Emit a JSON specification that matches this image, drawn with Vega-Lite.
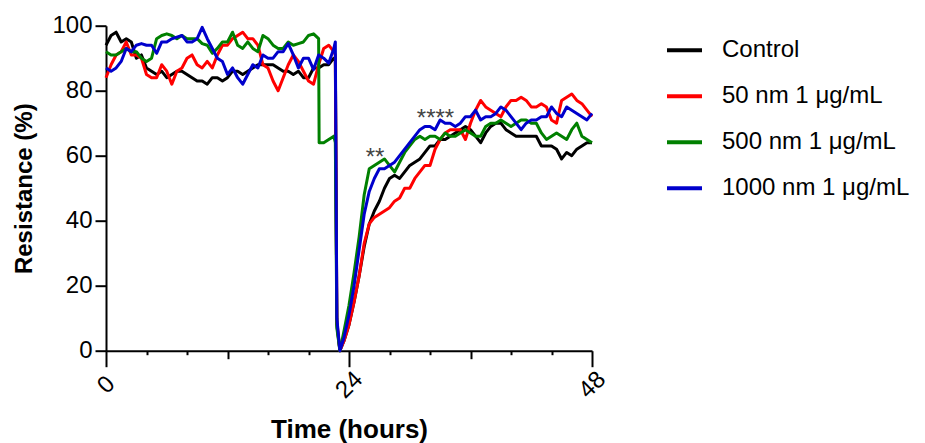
{
  "$schema": "https://vega.github.io/schema/vega-lite/v6.json",
  "width": 486,
  "height": 325,
  "autosize": {"type": "none"},
  "padding": {"left": 106, "top": 25.7, "right": 333, "bottom": 92.3},
  "background": "white",
  "config": {"view": {"stroke": null}, "font": "Liberation Sans"},
  "layer": [
    {
      "data": {"values": [
        {"t":0,"s":"Control","v":94},{"t":0.5,"s":"Control","v":97},{"t":1,"s":"Control","v":98},{"t":1.5,"s":"Control","v":95},{"t":2,"s":"Control","v":96},{"t":2.5,"s":"Control","v":95},{"t":3,"s":"Control","v":90},{"t":3.5,"s":"Control","v":91},{"t":4,"s":"Control","v":87},{"t":4.5,"s":"Control","v":86},{"t":5,"s":"Control","v":85},{"t":5.5,"s":"Control","v":86},{"t":6,"s":"Control","v":84},{"t":6.5,"s":"Control","v":85},{"t":7,"s":"Control","v":86},{"t":7.5,"s":"Control","v":86},{"t":8,"s":"Control","v":85},{"t":8.5,"s":"Control","v":84},{"t":9,"s":"Control","v":83},{"t":9.5,"s":"Control","v":83},{"t":10,"s":"Control","v":82},{"t":10.5,"s":"Control","v":84},{"t":11,"s":"Control","v":84},{"t":11.5,"s":"Control","v":83},{"t":12,"s":"Control","v":84},{"t":12.5,"s":"Control","v":86},{"t":13,"s":"Control","v":86},{"t":13.5,"s":"Control","v":85},{"t":14,"s":"Control","v":86},{"t":14.5,"s":"Control","v":87},{"t":15,"s":"Control","v":88},{"t":15.5,"s":"Control","v":88},{"t":16,"s":"Control","v":88},{"t":16.5,"s":"Control","v":88},{"t":17,"s":"Control","v":87},{"t":17.5,"s":"Control","v":86},{"t":18,"s":"Control","v":86},{"t":18.5,"s":"Control","v":85},{"t":19,"s":"Control","v":86},{"t":19.5,"s":"Control","v":84},{"t":20,"s":"Control","v":84},{"t":20.5,"s":"Control","v":87},{"t":21,"s":"Control","v":87},{"t":21.5,"s":"Control","v":88},{"t":22,"s":"Control","v":88},{"t":22.5,"s":"Control","v":90},{"t":22.65,"s":"Control","v":90},{"t":22.8,"s":"Control","v":8},{"t":23.1,"s":"Control","v":0},{"t":23.5,"s":"Control","v":3},{"t":24,"s":"Control","v":8},{"t":24.5,"s":"Control","v":15},{"t":25,"s":"Control","v":23},{"t":25.5,"s":"Control","v":32},{"t":26,"s":"Control","v":39},{"t":26.5,"s":"Control","v":43},{"t":27,"s":"Control","v":46},{"t":27.5,"s":"Control","v":50},{"t":28,"s":"Control","v":53},{"t":28.5,"s":"Control","v":54},{"t":29,"s":"Control","v":53},{"t":29.5,"s":"Control","v":55},{"t":30,"s":"Control","v":57},{"t":30.5,"s":"Control","v":58},{"t":31,"s":"Control","v":59},{"t":31.5,"s":"Control","v":61},{"t":32,"s":"Control","v":63},{"t":32.5,"s":"Control","v":63},{"t":33,"s":"Control","v":65},{"t":33.5,"s":"Control","v":65},{"t":34,"s":"Control","v":66},{"t":34.5,"s":"Control","v":67},{"t":35,"s":"Control","v":68},{"t":35.5,"s":"Control","v":69},{"t":36,"s":"Control","v":68},{"t":36.5,"s":"Control","v":66},{"t":37,"s":"Control","v":64},{"t":37.5,"s":"Control","v":67},{"t":38,"s":"Control","v":69},{"t":38.5,"s":"Control","v":70},{"t":39,"s":"Control","v":70},{"t":39.5,"s":"Control","v":68},{"t":40,"s":"Control","v":67},{"t":40.5,"s":"Control","v":66},{"t":41,"s":"Control","v":66},{"t":41.5,"s":"Control","v":66},{"t":42,"s":"Control","v":66},{"t":42.5,"s":"Control","v":66},{"t":43,"s":"Control","v":63},{"t":43.5,"s":"Control","v":63},{"t":44,"s":"Control","v":63},{"t":44.5,"s":"Control","v":62},{"t":45,"s":"Control","v":59},{"t":45.5,"s":"Control","v":61},{"t":46,"s":"Control","v":60},{"t":46.5,"s":"Control","v":62},{"t":47,"s":"Control","v":63},{"t":47.5,"s":"Control","v":64},{"t":48,"s":"Control","v":64},

        {"t":0,"s":"50 nm 1 μg/mL","v":84},{"t":0.5,"s":"50 nm 1 μg/mL","v":88},{"t":1,"s":"50 nm 1 μg/mL","v":91},{"t":1.5,"s":"50 nm 1 μg/mL","v":92},{"t":2,"s":"50 nm 1 μg/mL","v":95},{"t":2.5,"s":"50 nm 1 μg/mL","v":91},{"t":3,"s":"50 nm 1 μg/mL","v":91},{"t":3.5,"s":"50 nm 1 μg/mL","v":90},{"t":4,"s":"50 nm 1 μg/mL","v":85},{"t":4.5,"s":"50 nm 1 μg/mL","v":84},{"t":5,"s":"50 nm 1 μg/mL","v":84},{"t":5.5,"s":"50 nm 1 μg/mL","v":88},{"t":6,"s":"50 nm 1 μg/mL","v":86},{"t":6.5,"s":"50 nm 1 μg/mL","v":82},{"t":7,"s":"50 nm 1 μg/mL","v":86},{"t":7.5,"s":"50 nm 1 μg/mL","v":87},{"t":8,"s":"50 nm 1 μg/mL","v":90},{"t":8.5,"s":"50 nm 1 μg/mL","v":91},{"t":9,"s":"50 nm 1 μg/mL","v":88},{"t":9.5,"s":"50 nm 1 μg/mL","v":87},{"t":10,"s":"50 nm 1 μg/mL","v":89},{"t":10.5,"s":"50 nm 1 μg/mL","v":87},{"t":11,"s":"50 nm 1 μg/mL","v":91},{"t":11.5,"s":"50 nm 1 μg/mL","v":94},{"t":12,"s":"50 nm 1 μg/mL","v":94},{"t":12.5,"s":"50 nm 1 μg/mL","v":96},{"t":13,"s":"50 nm 1 μg/mL","v":97},{"t":13.5,"s":"50 nm 1 μg/mL","v":98},{"t":14,"s":"50 nm 1 μg/mL","v":96},{"t":14.5,"s":"50 nm 1 μg/mL","v":96},{"t":15,"s":"50 nm 1 μg/mL","v":94},{"t":15.5,"s":"50 nm 1 μg/mL","v":88},{"t":16,"s":"50 nm 1 μg/mL","v":87},{"t":16.5,"s":"50 nm 1 μg/mL","v":83},{"t":17,"s":"50 nm 1 μg/mL","v":80},{"t":17.5,"s":"50 nm 1 μg/mL","v":84},{"t":18,"s":"50 nm 1 μg/mL","v":88},{"t":18.5,"s":"50 nm 1 μg/mL","v":91},{"t":19,"s":"50 nm 1 μg/mL","v":89},{"t":19.5,"s":"50 nm 1 μg/mL","v":86},{"t":20,"s":"50 nm 1 μg/mL","v":83},{"t":20.5,"s":"50 nm 1 μg/mL","v":82},{"t":21,"s":"50 nm 1 μg/mL","v":88},{"t":21.5,"s":"50 nm 1 μg/mL","v":93},{"t":22,"s":"50 nm 1 μg/mL","v":94},{"t":22.5,"s":"50 nm 1 μg/mL","v":92},{"t":22.65,"s":"50 nm 1 μg/mL","v":91},{"t":22.8,"s":"50 nm 1 μg/mL","v":9},{"t":23.1,"s":"50 nm 1 μg/mL","v":0},{"t":23.5,"s":"50 nm 1 μg/mL","v":3},{"t":24,"s":"50 nm 1 μg/mL","v":8},{"t":24.5,"s":"50 nm 1 μg/mL","v":15},{"t":25,"s":"50 nm 1 μg/mL","v":23},{"t":25.5,"s":"50 nm 1 μg/mL","v":33},{"t":26,"s":"50 nm 1 μg/mL","v":39},{"t":26.5,"s":"50 nm 1 μg/mL","v":41},{"t":27,"s":"50 nm 1 μg/mL","v":42},{"t":27.5,"s":"50 nm 1 μg/mL","v":43},{"t":28,"s":"50 nm 1 μg/mL","v":44},{"t":28.5,"s":"50 nm 1 μg/mL","v":46},{"t":29,"s":"50 nm 1 μg/mL","v":47},{"t":29.5,"s":"50 nm 1 μg/mL","v":50},{"t":30,"s":"50 nm 1 μg/mL","v":50},{"t":30.5,"s":"50 nm 1 μg/mL","v":53},{"t":31,"s":"50 nm 1 μg/mL","v":55},{"t":31.5,"s":"50 nm 1 μg/mL","v":57},{"t":32,"s":"50 nm 1 μg/mL","v":57},{"t":32.5,"s":"50 nm 1 μg/mL","v":62},{"t":33,"s":"50 nm 1 μg/mL","v":65},{"t":33.5,"s":"50 nm 1 μg/mL","v":67},{"t":34,"s":"50 nm 1 μg/mL","v":68},{"t":34.5,"s":"50 nm 1 μg/mL","v":68},{"t":35,"s":"50 nm 1 μg/mL","v":68},{"t":35.5,"s":"50 nm 1 μg/mL","v":65},{"t":36,"s":"50 nm 1 μg/mL","v":70},{"t":36.5,"s":"50 nm 1 μg/mL","v":74},{"t":37,"s":"50 nm 1 μg/mL","v":77},{"t":37.5,"s":"50 nm 1 μg/mL","v":75},{"t":38,"s":"50 nm 1 μg/mL","v":74},{"t":38.5,"s":"50 nm 1 μg/mL","v":73},{"t":39,"s":"50 nm 1 μg/mL","v":72},{"t":39.5,"s":"50 nm 1 μg/mL","v":75},{"t":40,"s":"50 nm 1 μg/mL","v":77},{"t":40.5,"s":"50 nm 1 μg/mL","v":77},{"t":41,"s":"50 nm 1 μg/mL","v":78},{"t":41.5,"s":"50 nm 1 μg/mL","v":77},{"t":42,"s":"50 nm 1 μg/mL","v":75},{"t":42.5,"s":"50 nm 1 μg/mL","v":75},{"t":43,"s":"50 nm 1 μg/mL","v":76},{"t":43.5,"s":"50 nm 1 μg/mL","v":75},{"t":44,"s":"50 nm 1 μg/mL","v":71},{"t":44.5,"s":"50 nm 1 μg/mL","v":70},{"t":45,"s":"50 nm 1 μg/mL","v":77},{"t":45.5,"s":"50 nm 1 μg/mL","v":78},{"t":46,"s":"50 nm 1 μg/mL","v":79},{"t":46.5,"s":"50 nm 1 μg/mL","v":77},{"t":47,"s":"50 nm 1 μg/mL","v":76},{"t":47.5,"s":"50 nm 1 μg/mL","v":74},{"t":48,"s":"50 nm 1 μg/mL","v":72},

        {"t":0,"s":"500 nm 1 μg/mL","v":92},{"t":0.5,"s":"500 nm 1 μg/mL","v":91},{"t":1,"s":"500 nm 1 μg/mL","v":91},{"t":1.5,"s":"500 nm 1 μg/mL","v":92},{"t":2,"s":"500 nm 1 μg/mL","v":93},{"t":2.5,"s":"500 nm 1 μg/mL","v":92},{"t":3,"s":"500 nm 1 μg/mL","v":92},{"t":3.5,"s":"500 nm 1 μg/mL","v":90},{"t":4,"s":"500 nm 1 μg/mL","v":89},{"t":4.5,"s":"500 nm 1 μg/mL","v":90},{"t":5,"s":"500 nm 1 μg/mL","v":96},{"t":5.5,"s":"500 nm 1 μg/mL","v":97},{"t":6,"s":"500 nm 1 μg/mL","v":97.5},{"t":6.5,"s":"500 nm 1 μg/mL","v":97},{"t":7,"s":"500 nm 1 μg/mL","v":96},{"t":7.5,"s":"500 nm 1 μg/mL","v":97},{"t":8,"s":"500 nm 1 μg/mL","v":96},{"t":8.5,"s":"500 nm 1 μg/mL","v":96},{"t":9,"s":"500 nm 1 μg/mL","v":96},{"t":9.5,"s":"500 nm 1 μg/mL","v":94.5},{"t":10,"s":"500 nm 1 μg/mL","v":94},{"t":10.5,"s":"500 nm 1 μg/mL","v":91.5},{"t":11,"s":"500 nm 1 μg/mL","v":93},{"t":11.5,"s":"500 nm 1 μg/mL","v":95},{"t":12,"s":"500 nm 1 μg/mL","v":95},{"t":12.5,"s":"500 nm 1 μg/mL","v":98},{"t":13,"s":"500 nm 1 μg/mL","v":94},{"t":13.5,"s":"500 nm 1 μg/mL","v":93},{"t":14,"s":"500 nm 1 μg/mL","v":95},{"t":14.5,"s":"500 nm 1 μg/mL","v":93},{"t":15,"s":"500 nm 1 μg/mL","v":92},{"t":15.5,"s":"500 nm 1 μg/mL","v":97},{"t":16,"s":"500 nm 1 μg/mL","v":96},{"t":16.5,"s":"500 nm 1 μg/mL","v":94},{"t":17,"s":"500 nm 1 μg/mL","v":93},{"t":17.5,"s":"500 nm 1 μg/mL","v":93},{"t":18,"s":"500 nm 1 μg/mL","v":95},{"t":18.5,"s":"500 nm 1 μg/mL","v":94},{"t":19,"s":"500 nm 1 μg/mL","v":94.5},{"t":19.5,"s":"500 nm 1 μg/mL","v":95},{"t":20,"s":"500 nm 1 μg/mL","v":97},{"t":20.5,"s":"500 nm 1 μg/mL","v":97.5},{"t":21,"s":"500 nm 1 μg/mL","v":96},{"t":21.05,"s":"500 nm 1 μg/mL","v":64},{"t":21.5,"s":"500 nm 1 μg/mL","v":64},{"t":22,"s":"500 nm 1 μg/mL","v":65},{"t":22.5,"s":"500 nm 1 μg/mL","v":66},{"t":22.65,"s":"500 nm 1 μg/mL","v":64},{"t":22.8,"s":"500 nm 1 μg/mL","v":7},{"t":23.1,"s":"500 nm 1 μg/mL","v":0},{"t":23.5,"s":"500 nm 1 μg/mL","v":6},{"t":24,"s":"500 nm 1 μg/mL","v":14},{"t":24.5,"s":"500 nm 1 μg/mL","v":24},{"t":25,"s":"500 nm 1 μg/mL","v":35},{"t":25.5,"s":"500 nm 1 μg/mL","v":48},{"t":26,"s":"500 nm 1 μg/mL","v":56},{"t":26.5,"s":"500 nm 1 μg/mL","v":57},{"t":27,"s":"500 nm 1 μg/mL","v":58},{"t":27.5,"s":"500 nm 1 μg/mL","v":59},{"t":28,"s":"500 nm 1 μg/mL","v":57},{"t":28.5,"s":"500 nm 1 μg/mL","v":55},{"t":29,"s":"500 nm 1 μg/mL","v":58},{"t":29.5,"s":"500 nm 1 μg/mL","v":61},{"t":30,"s":"500 nm 1 μg/mL","v":63},{"t":30.5,"s":"500 nm 1 μg/mL","v":65},{"t":31,"s":"500 nm 1 μg/mL","v":66},{"t":31.5,"s":"500 nm 1 μg/mL","v":65},{"t":32,"s":"500 nm 1 μg/mL","v":66},{"t":32.5,"s":"500 nm 1 μg/mL","v":66},{"t":33,"s":"500 nm 1 μg/mL","v":65},{"t":33.5,"s":"500 nm 1 μg/mL","v":67},{"t":34,"s":"500 nm 1 μg/mL","v":66},{"t":34.5,"s":"500 nm 1 μg/mL","v":66},{"t":35,"s":"500 nm 1 μg/mL","v":67},{"t":35.5,"s":"500 nm 1 μg/mL","v":68},{"t":36,"s":"500 nm 1 μg/mL","v":67},{"t":36.5,"s":"500 nm 1 μg/mL","v":66},{"t":37,"s":"500 nm 1 μg/mL","v":66},{"t":37.5,"s":"500 nm 1 μg/mL","v":69},{"t":38,"s":"500 nm 1 μg/mL","v":70},{"t":38.5,"s":"500 nm 1 μg/mL","v":70},{"t":39,"s":"500 nm 1 μg/mL","v":71},{"t":39.5,"s":"500 nm 1 μg/mL","v":70},{"t":40,"s":"500 nm 1 μg/mL","v":69},{"t":40.5,"s":"500 nm 1 μg/mL","v":70},{"t":41,"s":"500 nm 1 μg/mL","v":71},{"t":41.5,"s":"500 nm 1 μg/mL","v":71},{"t":42,"s":"500 nm 1 μg/mL","v":70},{"t":42.5,"s":"500 nm 1 μg/mL","v":70},{"t":43,"s":"500 nm 1 μg/mL","v":67},{"t":43.5,"s":"500 nm 1 μg/mL","v":65},{"t":44,"s":"500 nm 1 μg/mL","v":66},{"t":44.5,"s":"500 nm 1 μg/mL","v":67},{"t":45,"s":"500 nm 1 μg/mL","v":66},{"t":45.5,"s":"500 nm 1 μg/mL","v":65},{"t":46,"s":"500 nm 1 μg/mL","v":68},{"t":46.5,"s":"500 nm 1 μg/mL","v":70},{"t":47,"s":"500 nm 1 μg/mL","v":66},{"t":47.5,"s":"500 nm 1 μg/mL","v":65},{"t":48,"s":"500 nm 1 μg/mL","v":64},

        {"t":0,"s":"1000 nm 1 μg/mL","v":87},{"t":0.5,"s":"1000 nm 1 μg/mL","v":86},{"t":1,"s":"1000 nm 1 μg/mL","v":87},{"t":1.5,"s":"1000 nm 1 μg/mL","v":89},{"t":2,"s":"1000 nm 1 μg/mL","v":93},{"t":2.5,"s":"1000 nm 1 μg/mL","v":92},{"t":3,"s":"1000 nm 1 μg/mL","v":94},{"t":3.5,"s":"1000 nm 1 μg/mL","v":94.5},{"t":4,"s":"1000 nm 1 μg/mL","v":94},{"t":4.5,"s":"1000 nm 1 μg/mL","v":94},{"t":5,"s":"1000 nm 1 μg/mL","v":91.5},{"t":5.5,"s":"1000 nm 1 μg/mL","v":95},{"t":6,"s":"1000 nm 1 μg/mL","v":95},{"t":6.5,"s":"1000 nm 1 μg/mL","v":96},{"t":7,"s":"1000 nm 1 μg/mL","v":96.5},{"t":7.5,"s":"1000 nm 1 μg/mL","v":97},{"t":8,"s":"1000 nm 1 μg/mL","v":95},{"t":8.5,"s":"1000 nm 1 μg/mL","v":95},{"t":9,"s":"1000 nm 1 μg/mL","v":96},{"t":9.5,"s":"1000 nm 1 μg/mL","v":99.5},{"t":10,"s":"1000 nm 1 μg/mL","v":96},{"t":10.5,"s":"1000 nm 1 μg/mL","v":93},{"t":11,"s":"1000 nm 1 μg/mL","v":90},{"t":11.5,"s":"1000 nm 1 μg/mL","v":89},{"t":12,"s":"1000 nm 1 μg/mL","v":85},{"t":12.5,"s":"1000 nm 1 μg/mL","v":87},{"t":13,"s":"1000 nm 1 μg/mL","v":84},{"t":13.5,"s":"1000 nm 1 μg/mL","v":82},{"t":14,"s":"1000 nm 1 μg/mL","v":85},{"t":14.5,"s":"1000 nm 1 μg/mL","v":88},{"t":15,"s":"1000 nm 1 μg/mL","v":87},{"t":15.5,"s":"1000 nm 1 μg/mL","v":91},{"t":16,"s":"1000 nm 1 μg/mL","v":90},{"t":16.5,"s":"1000 nm 1 μg/mL","v":90},{"t":17,"s":"1000 nm 1 μg/mL","v":92},{"t":17.5,"s":"1000 nm 1 μg/mL","v":92},{"t":18,"s":"1000 nm 1 μg/mL","v":94.5},{"t":18.5,"s":"1000 nm 1 μg/mL","v":91},{"t":19,"s":"1000 nm 1 μg/mL","v":87},{"t":19.5,"s":"1000 nm 1 μg/mL","v":90},{"t":20,"s":"1000 nm 1 μg/mL","v":90},{"t":20.5,"s":"1000 nm 1 μg/mL","v":86.5},{"t":21,"s":"1000 nm 1 μg/mL","v":91},{"t":21.5,"s":"1000 nm 1 μg/mL","v":90},{"t":22,"s":"1000 nm 1 μg/mL","v":88.5},{"t":22.5,"s":"1000 nm 1 μg/mL","v":93},{"t":22.65,"s":"1000 nm 1 μg/mL","v":95},{"t":22.8,"s":"1000 nm 1 μg/mL","v":10},{"t":23.1,"s":"1000 nm 1 μg/mL","v":0},{"t":23.5,"s":"1000 nm 1 μg/mL","v":4},{"t":24,"s":"1000 nm 1 μg/mL","v":11},{"t":24.5,"s":"1000 nm 1 μg/mL","v":20},{"t":25,"s":"1000 nm 1 μg/mL","v":31},{"t":25.5,"s":"1000 nm 1 μg/mL","v":42},{"t":26,"s":"1000 nm 1 μg/mL","v":49},{"t":26.5,"s":"1000 nm 1 μg/mL","v":53},{"t":27,"s":"1000 nm 1 μg/mL","v":56},{"t":27.5,"s":"1000 nm 1 μg/mL","v":56},{"t":28,"s":"1000 nm 1 μg/mL","v":57},{"t":28.5,"s":"1000 nm 1 μg/mL","v":58},{"t":29,"s":"1000 nm 1 μg/mL","v":60},{"t":29.5,"s":"1000 nm 1 μg/mL","v":62},{"t":30,"s":"1000 nm 1 μg/mL","v":64},{"t":30.5,"s":"1000 nm 1 μg/mL","v":66},{"t":31,"s":"1000 nm 1 μg/mL","v":68},{"t":31.5,"s":"1000 nm 1 μg/mL","v":69},{"t":32,"s":"1000 nm 1 μg/mL","v":69},{"t":32.5,"s":"1000 nm 1 μg/mL","v":68},{"t":33,"s":"1000 nm 1 μg/mL","v":71},{"t":33.5,"s":"1000 nm 1 μg/mL","v":70},{"t":34,"s":"1000 nm 1 μg/mL","v":70},{"t":34.5,"s":"1000 nm 1 μg/mL","v":69},{"t":35,"s":"1000 nm 1 μg/mL","v":70},{"t":35.5,"s":"1000 nm 1 μg/mL","v":72},{"t":36,"s":"1000 nm 1 μg/mL","v":72},{"t":36.5,"s":"1000 nm 1 μg/mL","v":74},{"t":37,"s":"1000 nm 1 μg/mL","v":71},{"t":37.5,"s":"1000 nm 1 μg/mL","v":72},{"t":38,"s":"1000 nm 1 μg/mL","v":72},{"t":38.5,"s":"1000 nm 1 μg/mL","v":73},{"t":39,"s":"1000 nm 1 μg/mL","v":75},{"t":39.5,"s":"1000 nm 1 μg/mL","v":74},{"t":40,"s":"1000 nm 1 μg/mL","v":72},{"t":40.5,"s":"1000 nm 1 μg/mL","v":70},{"t":41,"s":"1000 nm 1 μg/mL","v":68},{"t":41.5,"s":"1000 nm 1 μg/mL","v":70},{"t":42,"s":"1000 nm 1 μg/mL","v":71},{"t":42.5,"s":"1000 nm 1 μg/mL","v":71},{"t":43,"s":"1000 nm 1 μg/mL","v":72},{"t":43.5,"s":"1000 nm 1 μg/mL","v":72},{"t":44,"s":"1000 nm 1 μg/mL","v":75},{"t":44.5,"s":"1000 nm 1 μg/mL","v":73},{"t":45,"s":"1000 nm 1 μg/mL","v":72},{"t":45.5,"s":"1000 nm 1 μg/mL","v":75},{"t":46,"s":"1000 nm 1 μg/mL","v":74},{"t":46.5,"s":"1000 nm 1 μg/mL","v":73},{"t":47,"s":"1000 nm 1 μg/mL","v":72},{"t":47.5,"s":"1000 nm 1 μg/mL","v":71},{"t":48,"s":"1000 nm 1 μg/mL","v":73}
      ]},
      "mark": {"type": "line", "strokeWidth": 3, "strokeJoin": "round"},
      "encoding": {
        "x": {
          "field": "t", "type": "quantitative",
          "scale": {"domain": [0, 48], "nice": false, "zero": false},
          "axis": {
            "values": [0,1,2,3,4,5,6,7,8,9,10,11,12,13,14,15,16,17,18,19,20,21,22,23,24,25,26,27,28,29,30,31,32,33,34,35,36,37,38,39,40,41,42,43,44,45,46,47,48],
            "labelExpr": "datum.value % 24 === 0 ? datum.label : ''",
            "labelOverlap": false,
            "tickSize": {"condition": [{"test": "datum.value % 24 === 0", "value": 16}, {"test": "datum.value % 12 === 0", "value": 8}], "value": 4},
            "tickWidth": 2,
            "tickColor": "black",
            "domainColor": "black",
            "domainWidth": 2,
            "grid": false,
            "labelAngle": -45,
            "labelAlign": "center",
            "labelBaseline": "middle",
            "labelFontSize": 24,
            "labelColor": "#000000",
            "labelPadding": 18,
            "title": "Time (hours)",
            "titleFontSize": 26,
            "titleFontWeight": "bold",
            "titleColor": "#000000",
            "titlePadding": 14
          }
        },
        "y": {
          "field": "v", "type": "quantitative",
          "scale": {"domain": [0, 100], "nice": false},
          "axis": {
            "values": [0, 20, 40, 60, 80, 100],
            "tickSize": 11,
            "tickWidth": 2,
            "tickColor": "black",
            "domainColor": "black",
            "domainWidth": 2,
            "grid": false,
            "labelFontSize": 24,
            "labelColor": "#000000",
            "labelPadding": 3,
            "title": "Resistance (%)",
            "titleFontSize": 24,
            "titleFontWeight": "bold",
            "titleColor": "#000000",
            "titlePadding": 15
          }
        },
        "color": {
          "field": "s", "type": "nominal", "sort": null,
          "scale": {"domain": ["Control", "50 nm 1 μg/mL", "500 nm 1 μg/mL", "1000 nm 1 μg/mL"], "range": ["#000000", "#ff0000", "#008000", "#0000cc"]},
          "legend": {
            "orient": "none",
            "legendX": 559,
            "legendY": 5,
            "title": null,
            "symbolType": "stroke",
            "symbolStrokeWidth": 4,
            "symbolSize": 1225,
            "labelFontSize": 24,
            "labelColor": "#000000",
            "labelOffset": 18,
            "labelLimit": 400,
            "rowPadding": 14
          }
        }
      }
    },
    {
      "data": {"values": [{"t": 26.57, "v": 57, "label": "**"}, {"t": 32.54, "v": 69, "label": "****"}]},
      "mark": {"type": "text", "fontSize": 24, "color": "#444444", "baseline": "alphabetic", "align": "center"},
      "encoding": {
        "x": {"field": "t", "type": "quantitative"},
        "y": {"field": "v", "type": "quantitative"},
        "text": {"field": "label"}
      }
    }
  ]
}
